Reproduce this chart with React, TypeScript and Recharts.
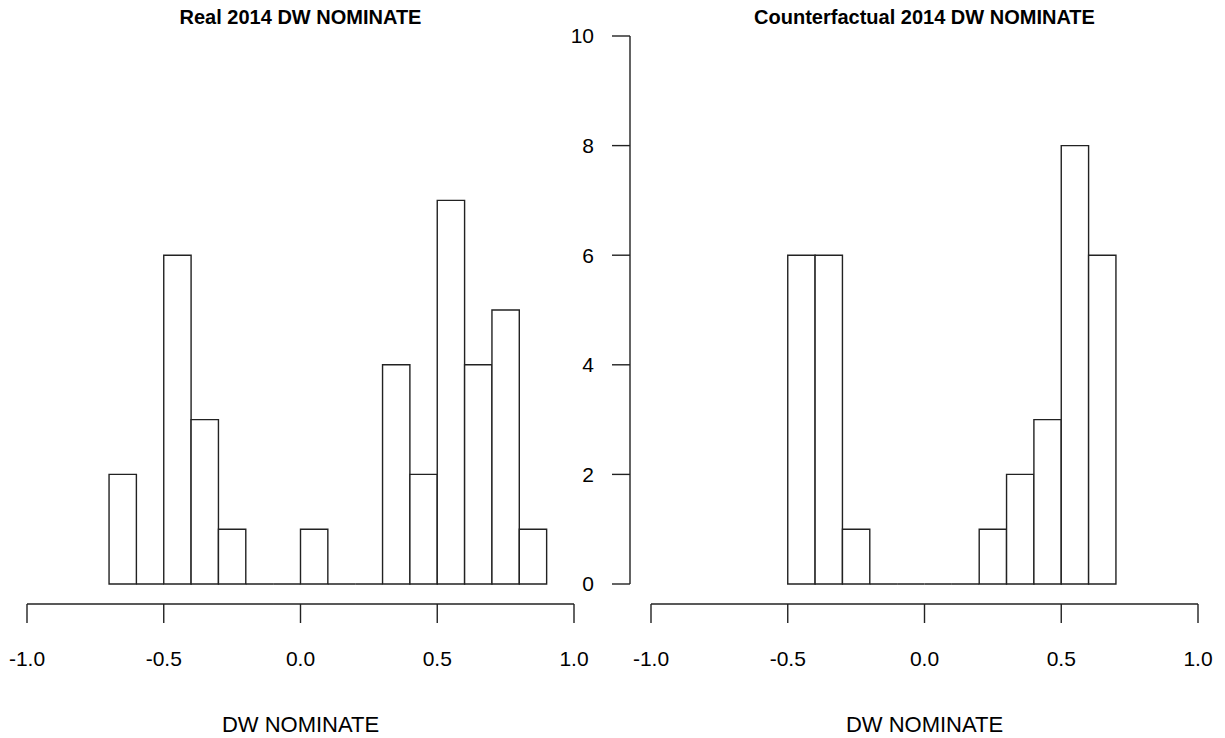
import React from 'react';
import { BarChart, Bar, XAxis, YAxis } from 'recharts';

// ---- data ----
const binStarts = [-1.0, -0.9, -0.8, -0.7, -0.6, -0.5, -0.4, -0.3, -0.2, -0.1, 0.0, 0.1, 0.2, 0.3, 0.4, 0.5, 0.6, 0.7, 0.8, 0.9];
const realCounts: (number | null)[] = [null, null, null, 2, 0, 6, 3, 1, 0, 0, 1, 0, 0, 4, 2, 7, 4, 5, 1, null];
const counterfactualCounts: (number | null)[] = [null, null, null, null, null, 6, 6, 1, 0, 0, 0, 0, 1, 2, 3, 8, 6, null, null, null];
const xTicks = [-1, -0.5, 0, 0.5, 1];
const yTicks = [0, 2, 4, 6, 8, 10];
const leftTitle = 'Real 2014 DW NOMINATE';
const rightTitle = 'Counterfactual 2014 DW NOMINATE';
const xLabel = 'DW NOMINATE';

const data = binStarts.map((s, i) => ({
  bin: s.toFixed(1),
  start: s,
  real: realCounts[i],
  counter: counterfactualCounts[i],
}));

// ---- layout ----
const W = 1225;
const H = 738;
const TOP = 36;
const AXIS_Y = 604;
const ZERO_Y = 584;
const LEFT_X0 = 27;
const LEFT_X1 = 574;
const RIGHT_X0 = 651;
const RIGHT_X1 = 1198;
const YAXIS_X = 630;
const LINE = '#222';
const SW = 1.4;
const FONT = "'Liberation Sans', Arial, sans-serif";
const BAR_W = (LEFT_X1 - LEFT_X0) / binStarts.length - 0.01;

const makeShape = (key: string) => (props: any) => {
  const { x, y, width, height, payload } = props;
  if (!payload || payload[key] == null) return null;
  const b = y + height;
  return (
    <path
      d={`M${x},${b}V${y}H${x + width}V${b}Z`}
      fill="#fff"
      stroke={LINE}
      strokeWidth={SW}
    />
  );
};

const tickStyle = { fontSize: 21, fill: '#000', fontFamily: FONT };

function Panel({ x0, x1, dataKey }: { x0: number; x1: number; dataKey: string }) {
  return (
    <div style={{ position: 'absolute', left: 0, top: 0 }}>
      <BarChart
        width={W}
        height={H}
        data={data}
        margin={{ top: TOP, left: x0, right: W - x1, bottom: 0 }}
        barCategoryGap={0}
        barGap={0}
      >
        <XAxis
          xAxisId="val"
          dataKey="start"
          type="number"
          domain={[-1, 1]}
          allowDataOverflow
          ticks={xTicks}
          interval={0}
          tickFormatter={(v: number) => v.toFixed(1)}
          height={H - AXIS_Y}
          tickSize={19}
          tickMargin={28}
          axisLine={{ stroke: LINE, strokeWidth: SW }}
          tickLine={{ stroke: LINE, strokeWidth: SW }}
          tick={tickStyle}
          label={{ value: xLabel, position: 'insideBottom', offset: 6, fontSize: 22, fill: '#000', fontFamily: FONT }}
        />
        <XAxis xAxisId="bins" dataKey="bin" type="category" hide height={0} />
        <YAxis hide domain={[0, 10]} padding={{ top: 0, bottom: AXIS_Y - ZERO_Y }} />
        <Bar
          xAxisId="bins"
          dataKey={dataKey}
          barSize={BAR_W}
          shape={makeShape(dataKey)}
          isAnimationActive={false}
        />
      </BarChart>
    </div>
  );
}

function YAxisChart() {
  return (
    <div style={{ position: 'absolute', left: 0, top: 0 }}>
      <BarChart
        width={W}
        height={H}
        data={data}
        margin={{ top: TOP, left: YAXIS_X - 60, right: W - (YAXIS_X + 15), bottom: H - ZERO_Y }}
      >
        <XAxis dataKey="bin" hide height={0} />
        <YAxis
          width={60}
          domain={[0, 10]}
          ticks={yTicks}
          interval={0}
          tickSize={18}
          tickMargin={18}
          axisLine={{ stroke: LINE, strokeWidth: SW }}
          tickLine={{ stroke: LINE, strokeWidth: SW }}
          tick={tickStyle}
        />
        <Bar dataKey="counter" fill="none" stroke="none" isAnimationActive={false} />
      </BarChart>
    </div>
  );
}

const titleStyle = (cx: number): React.CSSProperties => ({
  position: 'absolute',
  left: cx - 250,
  width: 500,
  top: 7,
  textAlign: 'center',
  fontSize: 20,
  lineHeight: '20px',
  fontWeight: 'bold',
  fontFamily: FONT,
  color: '#000',
});

export default function App() {
  return (
    <div style={{ position: 'absolute', left: 0, top: 0, width: W, height: H, background: '#fff', fontFamily: FONT }}>
      <div style={titleStyle((LEFT_X0 + LEFT_X1) / 2)}>{leftTitle}</div>
      <div style={titleStyle((RIGHT_X0 + RIGHT_X1) / 2)}>{rightTitle}</div>
      <Panel x0={LEFT_X0} x1={LEFT_X1} dataKey="real" />
      <Panel x0={RIGHT_X0} x1={RIGHT_X1} dataKey="counter" />
      <YAxisChart />
    </div>
  );
}
